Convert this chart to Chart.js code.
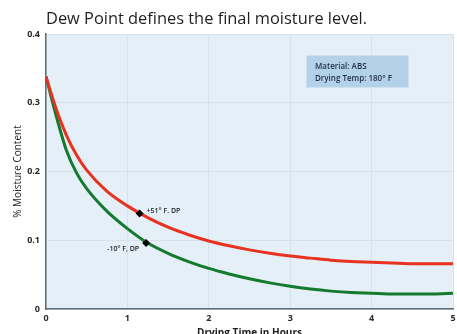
<!DOCTYPE html>
<html>
<head>
<meta charset="utf-8">
<script src="https://cdn.jsdelivr.net/npm/chart.js@4/dist/chart.umd.min.js"></script>
<style>
html,body{margin:0;padding:0;background:#fff;}
#wrap{position:relative;width:457px;height:334px;}
canvas{display:block;}
</style>
</head>
<body>
<div id="wrap"><canvas id="c" width="457" height="334"></canvas></div>
<script>
const hours = [0, 0.125, 0.25, 0.375, 0.5, 0.75, 1.0, 1.25, 1.5, 1.75, 2.0, 2.25, 2.5, 2.75, 3.0, 3.25, 3.5, 3.75, 4.0, 4.25, 4.5, 4.75, 5.0];
const moistureDP51 = [0.338, 0.291, 0.253, 0.224, 0.202, 0.171, 0.150, 0.133, 0.119, 0.108, 0.099, 0.092, 0.086, 0.081, 0.077, 0.074, 0.071, 0.069, 0.068, 0.067, 0.066, 0.066, 0.066];
const moistureDPm10 = [0.338, 0.281, 0.231, 0.198, 0.175, 0.142, 0.117, 0.096, 0.081, 0.069, 0.059, 0.051, 0.044, 0.038, 0.033, 0.029, 0.026, 0.024, 0.023, 0.022, 0.022, 0.022, 0.023];
const markerLabels = ["+51° F. DP", "-10° F, DP"];
const markerX = [1.15, 1.23];
const markerY = [0.139, 0.096];
const xTicks = [0, 1, 2, 3, 4, 5];
const yTicks = [0, 0.1, 0.2, 0.3, 0.4];
const titleText = "Dew Point defines the final moisture level.";
const infoLines = ["Material: ABS", "Drying Temp: 180° F"];

const FONT = "'Open Sans', 'Noto Sans', sans-serif";

const toPts = (xs, ys) => xs.map((x, i) => ({x: x, y: ys[i]}));

const bgPlugin = {
  id: 'bg',
  beforeDraw(chart) {
    const {ctx, chartArea: a} = chart;
    ctx.save();
    ctx.fillStyle = '#e4eff7';
    ctx.fillRect(a.left, a.top, a.right - a.left, a.bottom - a.top);
    ctx.restore();
  },
  afterDraw(chart) {
    const {ctx, chartArea: a, scales} = chart;
    ctx.save();
    // title
    ctx.fillStyle = '#1f1f1f';
    ctx.font = "16.4px " + FONT;
    ctx.textBaseline = 'alphabetic';
    ctx.textAlign = 'left';
    ctx.fillText(titleText, a.left, 24);
    // info box
    const bx = Math.round(scales.x.getPixelForValue(3.2)), by = Math.round(scales.y.getPixelForValue(0.37));
    const bw = 103, bh = 33;
    ctx.fillStyle = '#b3d2ea';
    ctx.fillRect(bx, by, bw, bh);
    ctx.strokeStyle = '#cfe0ee';
    ctx.lineWidth = 1;
    ctx.strokeRect(bx + 0.5, by + 0.5, bw - 1, bh - 1);
    ctx.fillStyle = '#1e2e45';
    ctx.font = "600 8px " + FONT;
    ctx.fillText(infoLines[0], bx + 9, by + 14);
    ctx.fillText(infoLines[1], bx + 9, by + 26);
    // marker labels
    ctx.font = "600 7px " + FONT;
    ctx.fillStyle = '#1e1e1e';
    const p1x = scales.x.getPixelForValue(markerX[0]), p1y = scales.y.getPixelForValue(markerY[0]);
    ctx.textAlign = 'left';
    ctx.textBaseline = 'middle';
    ctx.fillText(markerLabels[0], p1x + 7, p1y - 2);
    const p2x = scales.x.getPixelForValue(markerX[1]), p2y = scales.y.getPixelForValue(markerY[1]);
    ctx.textAlign = 'right';
    ctx.fillText(markerLabels[1], p2x - 7, p2y + 6);
    ctx.restore();
  }
};

new Chart(document.getElementById('c'), {
  type: 'scatter',
  data: {
    datasets: [
      {
        data: toPts(markerX, markerY),
        showLine: false,
        pointStyle: 'rectRot',
        pointRadius: 4,
        backgroundColor: '#000',
        borderColor: '#000',
        borderWidth: 0,
        order: 0
      },
      {
        data: toPts(hours, moistureDP51),
        showLine: true,
        borderColor: '#e8321f',
        borderWidth: 3,
        pointRadius: 0,
        cubicInterpolationMode: 'monotone',
        order: 1
      },
      {
        data: toPts(hours, moistureDPm10),
        showLine: true,
        borderColor: '#137a2e',
        borderWidth: 3,
        pointRadius: 0,
        cubicInterpolationMode: 'monotone',
        order: 2
      }
    ]
  },
  options: {
    responsive: false,
    animation: false,
    devicePixelRatio: 1,
    layout: {padding: {top: 34, left: 0, right: 0, bottom: 0}},
    plugins: {legend: {display: false}, tooltip: {enabled: false}, title: {display: false}},
    scales: {
      x: {
        type: 'linear',
        min: 0, max: 5,
        afterBuildTicks(s) { s.ticks = xTicks.map(v => ({value: v})); },
        afterFit(s) { s.height = 25; s.paddingLeft = 0; s.paddingRight = 0; },
        grid: {color: '#d5e2ec', drawTicks: false},
        border: {color: '#5f6b70', width: 1.5},
        ticks: {padding: 4, color: '#2a2a2a', font: {family: FONT, size: 9, weight: 'bold'}, maxRotation: 0},
        title: {display: true, text: 'Drying Time in Hours', color: '#1e1e1e', font: {family: FONT, size: 10, weight: 'bold'}, padding: {top: 1, bottom: -5}}
      },
      y: {
        min: 0, max: 0.4,
        afterBuildTicks(s) { s.ticks = yTicks.map(v => ({value: v})); },
        afterFit(s) { s.width = 46; s.paddingTop = 0; s.paddingBottom = 0; },
        grid: {color: '#d5e2ec', drawTicks: false},
        border: {color: '#5f6b70', width: 1.5},
        ticks: {padding: 6, color: '#2a2a2a', font: {family: FONT, size: 9, weight: 'bold'}, callback: v => String(Math.round(v * 10) / 10)},
        title: {display: true, text: '% Moisture Content', color: '#1e1e1e', font: {family: FONT, size: 10}, padding: {top: 12, bottom: 2}}
      }
    }
  },
  plugins: [bgPlugin]
});
</script>
</body>
</html>
